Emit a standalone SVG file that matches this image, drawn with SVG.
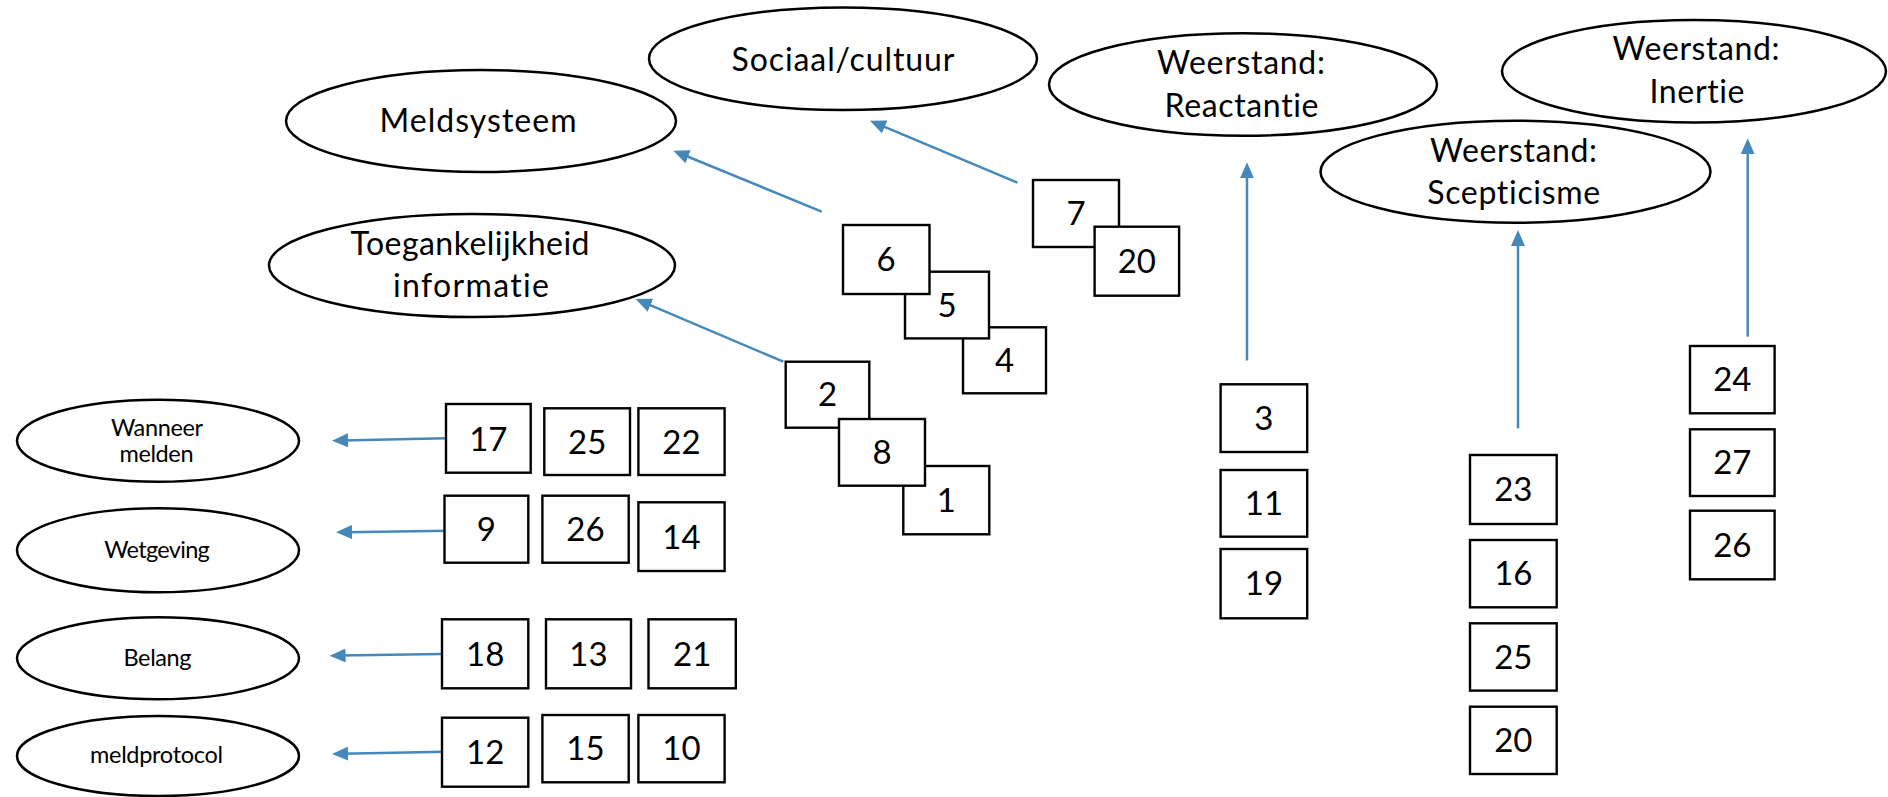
<svg xmlns="http://www.w3.org/2000/svg" width="1888" height="797" viewBox="0 0 1888 797">
<defs>
<style>
.bg{fill:#ffffff}
.el{fill:#ffffff;stroke:#000000;stroke-width:2.5}
.bx{fill:#ffffff;stroke:#000000;stroke-width:2.4}
text{font-variant-ligatures:none;font-feature-settings:"liga" 0,"clig" 0,"dlig" 0}
.lb{font-family:Lato,"Liberation Sans",sans-serif;font-size:32px;fill:#000000;text-anchor:middle}
.sm{font-family:Lato,"Liberation Sans",sans-serif;font-size:23.5px;fill:#000000;text-anchor:middle}
.nm{font-family:Lato,"Liberation Sans",sans-serif;font-size:33px;fill:#000000;text-anchor:middle}
.ar{fill:none;stroke:#4589BC;stroke-width:2.5;marker-end:url(#ah)}
</style>
<marker id="ah" viewBox="0 0 16 14" refX="6" refY="7" markerWidth="16" markerHeight="14" markerUnits="userSpaceOnUse" orient="auto">
<path d="M0,0 L16,7 L0,14 z" fill="#4589BC"/>
</marker>
</defs>
<rect class="bg" x="0" y="0" width="1888" height="797"/>

<g id="connectors">
<line class="ar" x1="821.7" y1="211.7" x2="682.6" y2="154.5"/>
<line class="ar" x1="1017.4" y1="182.7" x2="879.2" y2="124.6"/>
<line class="ar" x1="783.3" y1="361.7" x2="644.9" y2="302.9"/>
<line class="ar" x1="1247" y1="360.5" x2="1247" y2="172.3"/>
<line class="ar" x1="1518" y1="428.3" x2="1518" y2="240"/>
<line class="ar" x1="1747.7" y1="336.7" x2="1747.7" y2="148.3"/>
<line class="ar" x1="446" y1="438.3" x2="342" y2="440.5"/>
<line class="ar" x1="448.3" y1="530.7" x2="346" y2="532.2"/>
<line class="ar" x1="442" y1="654" x2="339.6" y2="655.5"/>
<line class="ar" x1="444.5" y1="751.7" x2="342" y2="753.8"/>
</g>

<g id="n-meldsysteem"><ellipse class="el" cx="481" cy="121" rx="195" ry="51"/><text class="lb" x="478" y="132" textLength="197">Meldsysteem</text></g>
<g id="n-sociaal"><ellipse class="el" cx="843" cy="58.7" rx="194" ry="51.3"/><text class="lb" x="843" y="70.7" textLength="223">Sociaal/cultuur</text></g>
<g id="n-reactantie"><ellipse class="el" cx="1243" cy="84.5" rx="194" ry="51.3"/><text class="lb" x="1241" y="74" textLength="168">Weerstand:</text><text class="lb" x="1241.5" y="116.7" textLength="154">Reactantie</text></g>
<g id="n-toegankelijkheid"><ellipse class="el" cx="472" cy="265.5" rx="203" ry="51.5"/><text class="lb" x="470" y="255" textLength="239">Toegankelijkheid</text><text class="lb" x="471" y="297" textLength="156">informatie</text></g>
<g id="n-scepticisme"><ellipse class="el" cx="1515.5" cy="171.7" rx="195" ry="51"/><text class="lb" x="1513.5" y="161.7" textLength="167">Weerstand:</text><text class="lb" x="1513.7" y="204" textLength="173">Scepticisme</text></g>
<g id="n-inertie"><ellipse class="el" cx="1694" cy="71.3" rx="192" ry="51.3"/><text class="lb" x="1696" y="60" textLength="167">Weerstand:</text><text class="lb" x="1697" y="102.7" textLength="95">Inertie</text></g>
<g id="n-wanneer"><ellipse class="el" cx="158" cy="440.8" rx="141" ry="41"/><text class="sm" x="157" y="436" textLength="92">Wanneer</text><text class="sm" x="156.5" y="462.3" textLength="74">melden</text></g>
<g id="n-wetgeving"><ellipse class="el" cx="158" cy="550.3" rx="141" ry="42"/><text class="sm" x="157" y="558.3" textLength="105.7">Wetgeving</text></g>
<g id="n-belang"><ellipse class="el" cx="158" cy="658.3" rx="141" ry="41"/><text class="sm" x="157.5" y="666" textLength="68">Belang</text></g>
<g id="n-meldprotocol"><ellipse class="el" cx="158" cy="756" rx="141" ry="40"/><text class="sm" x="156.5" y="763.3" textLength="133">meldprotocol</text></g>

<g id="b-7"><rect class="bx" x="1033" y="180" width="86" height="67"/><text class="nm" x="1076" y="225">7</text></g>
<g id="b-20a"><rect class="bx" x="1094.6" y="226.7" width="84.5" height="69"/><text class="nm" x="1136.8" y="272.5">20</text></g>
<g id="b-4"><rect class="bx" x="963" y="327.3" width="83" height="66"/><text class="nm" x="1004.5" y="372">4</text></g>
<g id="b-5"><rect class="bx" x="905" y="271.7" width="84" height="66.7"/><text class="nm" x="947" y="316.5">5</text></g>
<g id="b-6"><rect class="bx" x="843" y="225" width="86.5" height="69"/><text class="nm" x="886" y="271">6</text></g>
<g id="b-1"><rect class="bx" x="903.3" y="466" width="86" height="68.3"/><text class="nm" x="946.3" y="512">1</text></g>
<g id="b-2"><rect class="bx" x="785.7" y="361.7" width="83.6" height="66"/><text class="nm" x="827.5" y="406">2</text></g>
<g id="b-8"><rect class="bx" x="839" y="419" width="86" height="66.7"/><text class="nm" x="882" y="464">8</text></g>

<g id="b-3"><rect class="bx" x="1220.6" y="384.3" width="86.6" height="67.7"/><text class="nm" x="1263.9" y="430">3</text></g>
<g id="b-11"><rect class="bx" x="1220.6" y="470" width="86.6" height="66.7"/><text class="nm" x="1263.9" y="515">11</text></g>
<g id="b-19"><rect class="bx" x="1220.6" y="549" width="86.6" height="69.3"/><text class="nm" x="1263.9" y="595">19</text></g>

<g id="b-23"><rect class="bx" x="1470" y="455" width="86.7" height="69"/><text class="nm" x="1513.3" y="501">23</text></g>
<g id="b-16"><rect class="bx" x="1470" y="540" width="86.7" height="67.3"/><text class="nm" x="1513.3" y="585">16</text></g>
<g id="b-25b"><rect class="bx" x="1470" y="623.3" width="86.7" height="67.3"/><text class="nm" x="1513.3" y="668.5">25</text></g>
<g id="b-20b"><rect class="bx" x="1470" y="706.7" width="86.7" height="67.3"/><text class="nm" x="1513.3" y="752">20</text></g>

<g id="b-24"><rect class="bx" x="1690" y="346" width="84.6" height="67.3"/><text class="nm" x="1732.3" y="391">24</text></g>
<g id="b-27"><rect class="bx" x="1690" y="429.3" width="84.6" height="66.7"/><text class="nm" x="1732.3" y="474">27</text></g>
<g id="b-26b"><rect class="bx" x="1690" y="510.7" width="84.6" height="68.6"/><text class="nm" x="1732.3" y="556.5">26</text></g>

<g id="b-17"><rect class="bx" x="446" y="404" width="84.7" height="68.7"/><text class="nm" x="488.3" y="450.5">17</text></g>
<g id="b-25a"><rect class="bx" x="544.3" y="408.3" width="85.7" height="66.7"/><text class="nm" x="587.2" y="453.5">25</text></g>
<g id="b-22"><rect class="bx" x="638.4" y="408.3" width="86.2" height="66.7"/><text class="nm" x="681.5" y="453.5">22</text></g>
<g id="b-9"><rect class="bx" x="444.5" y="495.7" width="83.8" height="67"/><text class="nm" x="486.4" y="540.8">9</text></g>
<g id="b-26a"><rect class="bx" x="542.4" y="495.7" width="86.3" height="67"/><text class="nm" x="585.5" y="540.8">26</text></g>
<g id="b-14"><rect class="bx" x="638.4" y="502.3" width="86.2" height="68.7"/><text class="nm" x="681.5" y="548.5">14</text></g>
<g id="b-18"><rect class="bx" x="442" y="619.3" width="86.3" height="69"/><text class="nm" x="485.2" y="665.5">18</text></g>
<g id="b-13"><rect class="bx" x="546" y="619.3" width="85" height="69"/><text class="nm" x="588.5" y="665.5">13</text></g>
<g id="b-21"><rect class="bx" x="648.5" y="619.3" width="87.3" height="69"/><text class="nm" x="692.2" y="665.5">21</text></g>
<g id="b-12"><rect class="bx" x="442" y="717.7" width="86.3" height="69"/><text class="nm" x="485.2" y="763.5">12</text></g>
<g id="b-15"><rect class="bx" x="542.4" y="715" width="86.3" height="67.3"/><text class="nm" x="585.5" y="760">15</text></g>
<g id="b-10"><rect class="bx" x="638.4" y="715" width="86.2" height="67.3"/><text class="nm" x="681.5" y="760">10</text></g>
</svg>
